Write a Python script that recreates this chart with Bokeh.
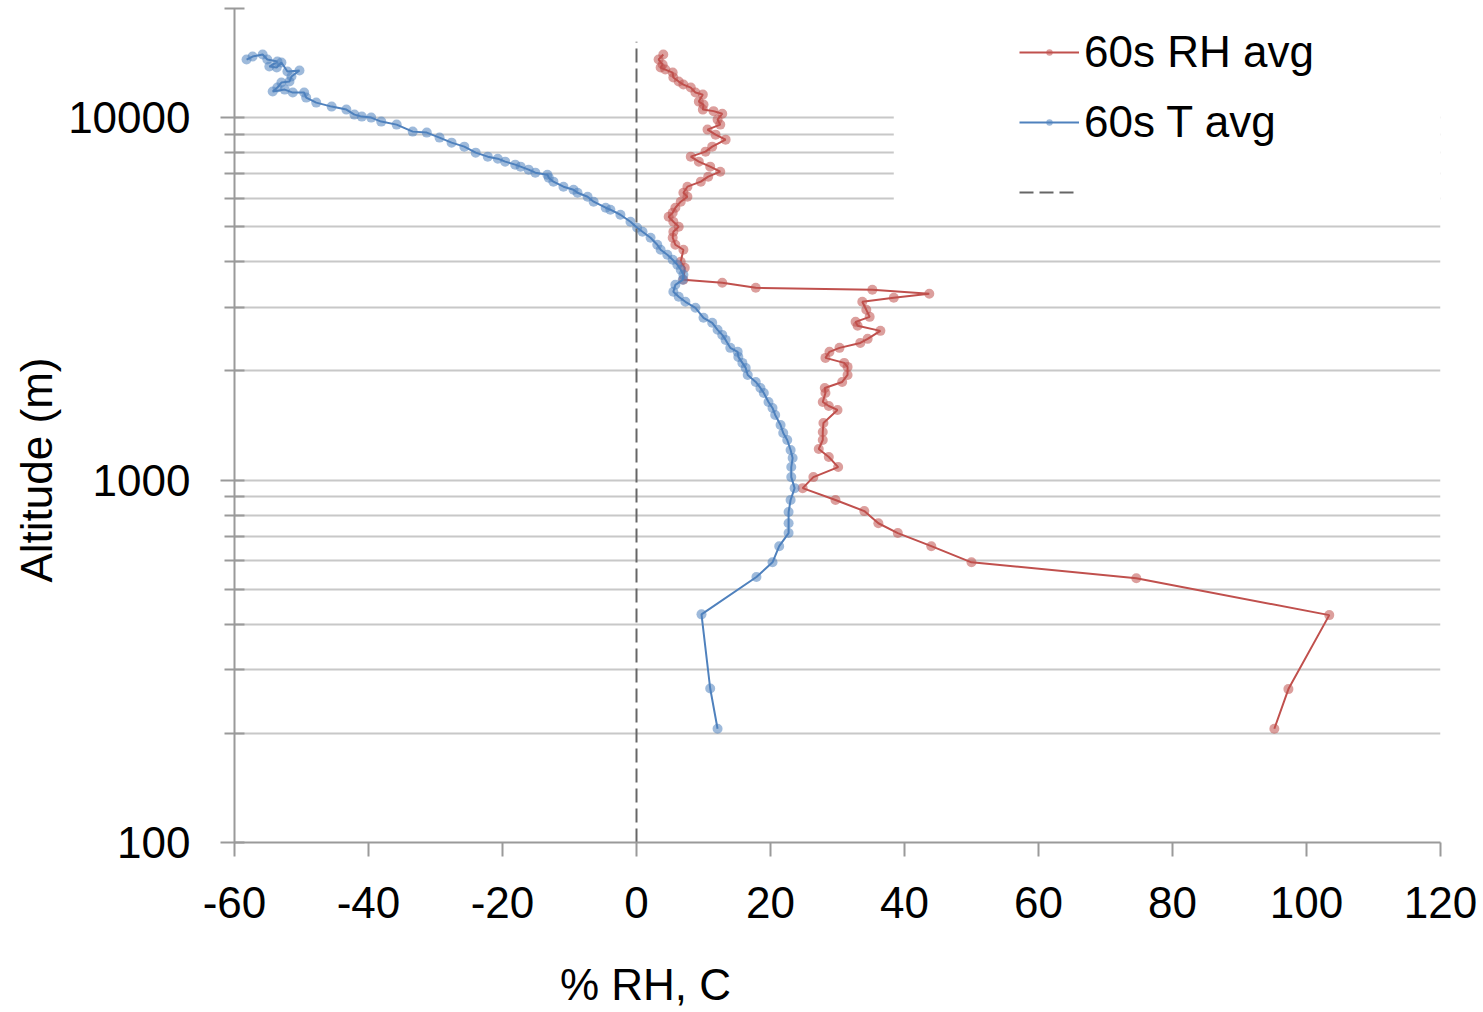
import math
from bokeh.plotting import figure
from bokeh.models import (FixedTicker, Legend, LegendItem, Title, Label, BoxAnnotation,
                          Range1d, NumeralTickFormatter)
from bokeh.embed import file_html
from bokeh.resources import INLINE

# ---------------- data ----------------
rh_pct = [95.2, 97.3, 103.4, 74.6, 50.0, 44.0, 39.0, 36.1, 34.0, 29.7, 24.8, 26.4, 30.1,
          28.7, 27.2, 27.8, 27.8, 27.9, 30.0, 28.7, 27.8, 28.2, 28.1, 30.7, 31.5, 31.5,
          31.0, 28.2, 28.8, 30.3, 33.4, 34.5, 36.4, 33.0, 32.7, 34.8, 34.3, 33.7, 38.4,
          43.7, 35.2, 17.8, 12.8, 7.0, 7.2, 6.6, 7.0, 5.8, 5.4, 5.5, 6.3, 5.5, 4.8, 5.4,
          5.8, 6.6, 7.6, 7.0, 7.6, 9.6, 10.7, 12.5, 11.0, 9.3, 8.1, 10.3, 11.3, 13.3,
          11.8, 10.6, 12.5, 12.1, 12.8, 11.5, 9.9, 10.0, 9.3, 9.9, 8.8, 8.1, 7.0, 6.3,
          5.5, 5.4, 4.3, 3.6, 3.9, 3.3, 4.0]
rh_alt = [206, 265, 424, 536, 593, 657, 714, 760, 821, 881, 950, 1019, 1086, 1158, 1218,
          1290, 1357, 1437, 1561, 1601, 1642, 1739, 1795, 1865, 1950, 2052, 2105, 2173,
          2258, 2316, 2390, 2452, 2580, 2664, 2732, 2820, 2949, 3103, 3183, 3265, 3349,
          3392, 3501, 3568, 3851, 4001, 4319, 4459, 4662, 4843, 5000, 5161, 5328, 5465,
          5641, 5861, 6050, 6206, 6448, 6657, 6871, 7093, 7323, 7560, 7803, 8055, 8316,
          8694, 8975, 9266, 9565, 9874, 10250, 10420, 10522, 10863, 11070, 11574, 11723,
          12102, 12336, 12573, 12897, 13313, 13570, 13744, 14009, 14462, 14928]

t_c = [12.1, 11.0, 9.7, 17.9, 20.3, 21.3, 22.7, 22.7, 22.7, 23.0, 23.6, 23.1, 23.1, 23.3,
       23.0, 22.5, 21.9, 21.5, 20.7, 20.3, 19.7, 19.0, 18.5, 17.8, 16.6, 16.3, 15.8, 15.2,
       15.1, 14.0, 13.3, 12.8, 12.1, 11.3, 10.0, 8.8, 7.3, 6.3, 5.5, 5.8, 6.9, 7.0, 6.6,
       6.1, 5.4, 4.6, 3.6, 3.1, 2.1, 0.9, 0.1, -0.9, -2.4, -3.9, -4.6, -6.4, -7.3, -8.8,
       -9.4, -10.9, -12.4, -13.1, -13.3, -15.1, -16.1, -17.3, -18.1, -19.6, -20.7, -22.2,
       -24.0, -25.7, -27.6, -29.4, -31.3, -33.4, -35.8, -38.1, -39.6, -41.0, -42.1, -43.3,
       -45.5, -47.8, -49.3, -49.6, -51.3, -52.5, -54.3, -53.6, -53.0, -51.8, -51.5, -50.3,
       -52.1, -53.0, -53.7, -54.8, -53.6, -55.1, -55.8, -57.3, -58.2]
t_alt = [206, 266, 426, 540, 593, 657, 714, 760, 816, 881, 950, 1019, 1086, 1150, 1210,
         1290, 1348, 1419, 1512, 1581, 1642, 1739, 1795, 1865, 1950, 2039, 2105, 2187,
         2258, 2316, 2436, 2515, 2597, 2715, 2803, 2987, 3103, 3203, 3306, 3457, 3568,
         3684, 3803, 3926, 4053, 4183, 4319, 4459, 4662, 4843, 4968, 5161, 5395, 5570,
         5641, 5861, 6050, 6206, 6326, 6448, 6657, 6829, 6959, 7049, 7185, 7323, 7417,
         7560, 7704, 7803, 8004, 8316, 8529, 8806, 9091, 9148, 9565, 9750, 10000, 10064,
         10193, 10522, 10724, 11000, 11355, 11723, 11723, 11948, 11798, 12102, 12494,
         12573, 12980, 13483, 13398, 14188, 13744, 13832, 14279, 14462, 14928, 14741, 14462]

zero_x = [0, 0]
zero_alt = [100, 16200]

x_ticks = [-60, -40, -20, 0, 20, 40, 60, 80, 100, 120]
y_major = [100, 1000, 10000]
y_minor = [200, 300, 400, 500, 600, 700, 800, 900,
           2000, 3000, 4000, 5000, 6000, 7000, 8000, 9000, 20000]

series_names = ["60s RH avg", "60s T avg", " "]
x_label = "% RH, C"
y_label = "Altitude (m)"

# ---------------- styling ----------------
FONT = "Liberation Sans"
RED = "#C0504D"
BLUE = "#4F81BD"
AXIS = "#9a9a9a"
GRID = "#c8c8c8"

p = figure(width=1483, height=1012, output_backend="svg", toolbar_location=None,
           y_axis_type="log", x_range=Range1d(-60, 120), y_range=Range1d(100, 20000),
           min_border_left=234, min_border_right=43, min_border_top=8,
           min_border_bottom=170)
p.outline_line_color = None
p.background_fill_color = "white"
p.border_fill_color = "white"

# axes
p.xaxis.ticker = FixedTicker(ticks=x_ticks, minor_ticks=[])
p.yaxis.ticker = FixedTicker(ticks=y_major, minor_ticks=y_minor)
p.xaxis.formatter = NumeralTickFormatter(format="0")
p.yaxis.formatter = NumeralTickFormatter(format="0")
for ax in (p.xaxis, p.yaxis):
    ax.axis_line_color = AXIS
    ax.axis_line_width = 2
    ax.major_tick_line_color = AXIS
    ax.major_tick_line_width = 2
    ax.minor_tick_line_color = AXIS
    ax.minor_tick_line_width = 2
    ax.major_label_text_font = FONT
    ax.major_label_text_font_size = "44px"
    ax.major_label_text_color = "black"
p.xaxis.major_tick_out = 14
p.xaxis.major_tick_in = 0
p.xaxis.minor_tick_out = 0
p.xaxis.minor_tick_in = 0
p.xaxis.major_label_standoff = 30
p.yaxis.major_tick_out = 14
p.yaxis.major_tick_in = 10
p.yaxis.minor_tick_out = 10
p.yaxis.minor_tick_in = 10
p.yaxis.major_label_standoff = 30

# grid
p.xgrid.visible = False
p.ygrid.grid_line_color = GRID
p.ygrid.grid_line_width = 2
p.ygrid.minor_grid_line_color = GRID
p.ygrid.minor_grid_line_width = 2

# series
rh_line = p.line(rh_pct, rh_alt, line_color=RED, line_width=2)
rh_pts = p.scatter(rh_pct, rh_alt, size=10, fill_color=RED, fill_alpha=0.55, line_alpha=0)
t_line = p.line(t_c, t_alt, line_color=BLUE, line_width=2)
t_pts = p.scatter(t_c, t_alt, size=10, fill_color=BLUE, fill_alpha=0.55, line_alpha=0)
z_line = p.line(zero_x, zero_alt, line_color="#666666", line_width=2, line_dash="14 6")

# white area behind legend (hides grid lines)
p.add_layout(BoxAnnotation(left=38.4, right=120, bottom=5500, top=19500,
                           fill_color="white", fill_alpha=1.0, line_alpha=0))

legend = Legend(items=[
    LegendItem(label=series_names[0], renderers=[rh_line, rh_pts]),
    LegendItem(label=series_names[1], renderers=[t_line, t_pts]),
    LegendItem(label=series_names[2], renderers=[z_line]),
], location=(785, 625))
legend.border_line_color = None
legend.background_fill_alpha = 0
legend.padding = 0
legend.margin = 0
legend.spacing = 20
legend.glyph_width = 60
legend.glyph_height = 16
legend.label_height = 50
legend.label_width = 240
legend.label_standoff = 5
legend.label_text_font = FONT
legend.label_text_font_size = "44px"
legend.label_text_color = "black"
p.add_layout(legend)

# axis titles (positioned like the original, off-centre)
p.add_layout(Label(x=411, y=-15, x_units="screen", y_units="screen", text=x_label,
                   text_align="center", text_baseline="middle",
                   text_font=FONT, text_font_size="44px", text_color="black"), "below")
p.add_layout(Title(text=y_label, align="left", offset=260, standoff=10,
                   text_font=FONT, text_font_size="44px", text_font_style="normal",
                   text_color="black"), "left")

open("out.html", "w").write(file_html(p, INLINE))
